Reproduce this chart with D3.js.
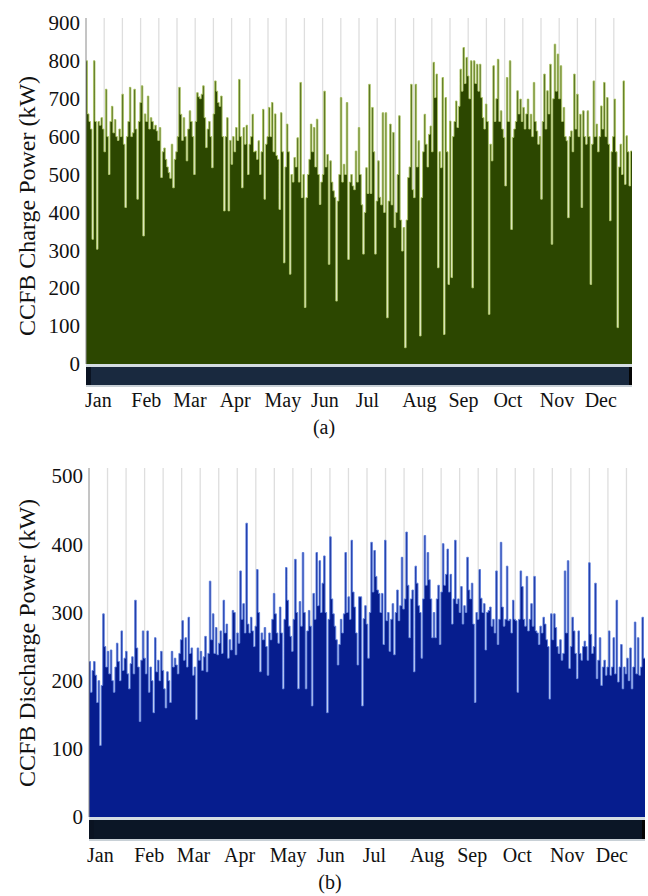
<!DOCTYPE html>
<html>
<head>
<meta charset="utf-8">
<script src="https://cdn.jsdelivr.net/npm/d3@7"></script>
<style>
  body { margin: 0; background: #fff; }
  svg text { font-family: "Liberation Serif", "Times New Roman", serif; fill: #111; }
</style>
</head>
<body>
<svg id="chart" width="648" height="896"></svg>
<script>
// DATA
const months = ["Jan", "Feb", "Mar", "Apr", "May", "Jun", "Jul", "Aug", "Sep", "Oct", "Nov", "Dec"];
const monthStartDay = [0, 31, 59, 90, 120, 151, 181, 212, 243, 273, 304, 334];

// daily CCFB charge power (kW)
const chargeKW = [
  800,660,640,620,329,800,640,303,640,630,
  650,620,560,725,600,500,640,680,610,645,
  600,590,620,600,712,580,413,600,640,730,
  600,610,725,620,435,640,690,734,338,660,
  640,707,620,650,640,620,630,615,590,624,
  492,560,570,540,520,505,490,580,465,540,
  560,600,730,659,590,650,600,536,620,668,
  640,600,500,640,716,705,700,712,734,650,
  571,620,640,600,518,660,747,720,690,680,
  707,600,404,600,650,404,590,527,600,560,
  624,590,751,600,465,624,580,630,500,580,
  600,659,560,562,540,589,500,560,672,435,
  580,600,677,600,690,560,660,550,540,408,
  663,560,267,520,633,560,237,500,480,545,
  520,597,480,743,439,500,149,439,500,540,
  633,560,624,520,646,500,421,480,500,720,
  520,553,263,536,480,457,440,166,430,500,
  703,480,527,500,690,276,480,500,470,460,
  562,480,624,500,420,290,400,518,450,738,
  450,677,560,290,430,536,440,420,663,400,
  663,122,430,633,420,611,360,400,500,655,
  380,298,360,43,380,492,520,738,460,439,
  738,520,589,74,439,560,659,580,520,606,
  628,560,796,703,765,254,560,518,756,78,
  703,560,210,641,228,600,640,694,624,680,
  778,720,835,740,809,760,700,800,201,800,
  740,791,720,791,703,650,620,686,640,131,
  580,536,787,640,700,804,640,668,620,598,
  470,756,640,800,355,598,620,640,721,660,
  699,640,677,620,660,699,620,659,600,743,
  640,615,580,600,435,640,765,620,721,660,
  791,316,700,844,720,818,700,787,640,677,
  600,589,386,600,615,560,765,620,712,600,
  659,413,668,600,580,668,600,210,580,747,
  600,633,560,600,681,620,743,600,703,580,
  378,560,600,699,560,96,520,580,500,747,
  474,602,560,470,562
];

// daily CCFB discharge power (kW)
const dischargeKW = [
  228,183,215,228,208,168,200,105,193,298,
  250,220,243,210,245,200,183,220,255,228,
  200,273,215,233,243,210,188,225,235,210,
  318,248,220,140,230,273,233,210,273,183,
  220,200,153,263,213,230,200,243,215,188,
  160,213,200,168,243,220,233,223,210,240,
  260,288,230,263,220,293,240,248,208,220,
  143,248,230,243,215,235,265,213,240,346,
  260,298,240,278,238,255,273,240,318,270,
  283,233,260,245,303,300,238,270,255,361,
  290,313,270,431,283,270,293,273,250,280,
  363,300,213,270,260,278,250,208,270,260,
  290,328,298,270,255,308,270,188,290,366,
  318,280,265,243,290,378,300,188,316,280,
  388,300,188,273,303,280,163,328,290,388,
  310,376,300,343,383,300,153,290,411,320,
  298,280,260,223,253,290,270,298,388,300,
  323,290,406,330,308,270,223,323,323,163,
  291,310,283,233,300,403,330,391,353,333,
  328,300,328,253,406,288,300,243,290,313,
  238,300,333,288,310,381,305,320,418,340,
  263,320,333,213,368,343,310,300,233,320,
  413,340,388,348,320,263,300,263,320,340,
  253,330,401,340,356,393,330,356,283,320,
  406,313,320,300,338,283,310,300,381,333,
  320,343,283,168,300,290,363,321,300,313,
  245,300,303,308,280,290,270,361,253,290,
  403,308,280,290,368,288,290,270,318,290,
  288,183,290,361,338,290,280,353,273,290,
  313,280,353,273,270,253,280,270,293,283,
  260,250,173,298,260,298,278,250,240,260,
  230,240,361,270,376,218,250,293,273,240,
  203,273,240,230,250,258,250,230,373,268,
  240,250,343,203,230,263,193,220,230,208,
  220,273,208,220,263,210,318,198,220,253,
  188,220,210,233,200,248,188,220,286,210,
  263,208,220,293,233
];

const chargeTicks = [0, 100, 200, 300, 400, 500, 600, 700, 800, 900];
const dischargeTicks = [0, 100, 200, 300, 400, 500];

const serif = "'Liberation Serif', 'Times New Roman', serif";
const svg = d3.select("#chart");
svg.append("rect").attr("width", 648).attr("height", 896).attr("fill", "#fff");

// DRAW ONE PANEL
function drawPanel(values, cfg) {
  const n = values.length;
  const g = svg.append("g").attr("font-family", serif);

  const x = d3.scaleLinear().domain([0, n]).range([cfg.left, cfg.right]);
  const y = d3.scaleLinear().domain([0, cfg.yMax]).range([cfg.bottom, cfg.top]);

  // vertical grid, 30 equal steps like the original
  const grid = d3.range(1, 30).map(k => k * n / 30);
  g.selectAll("line.grid")
    .data(grid)
    .join("line")
    .attr("class", "grid")
    .attr("x1", d => x(d)).attr("x2", d => x(d))
    .attr("y1", cfg.top).attr("y2", cfg.bottom)
    .attr("stroke", "#dedede")
    .attr("stroke-width", 1.3);

  const pts = values.map((v, i) => [i, v]).concat([[n, values[n - 1]]]);

  const area = d3.area()
    .x(d => x(d[0]))
    .y0(y(0))
    .y1(d => y(d[1]))
    .curve(d3.curveStepAfter);
  g.append("path").attr("d", area(pts)).attr("fill", cfg.fill);

  const line = d3.line()
    .x(d => x(d[0]))
    .y(d => y(d[1]))
    .curve(d3.curveStepAfter);
  g.append("path")
    .attr("d", line(pts))
    .attr("fill", "none")
    .attr("stroke", cfg.stroke)
    .attr("stroke-width", 0.9);

  // left axis line
  g.append("line")
    .attr("x1", cfg.left).attr("x2", cfg.left)
    .attr("y1", cfg.top).attr("y2", cfg.bottom)
    .attr("stroke", "#8a8a8a").attr("stroke-width", 1);

  // range selector strip under the plot
  g.append("rect")
    .attr("x", cfg.left).attr("y", cfg.bottom)
    .attr("width", cfg.right - cfg.left).attr("height", 3)
    .attr("fill", "#d4dce2");
  g.append("rect")
    .attr("x", cfg.left).attr("y", cfg.bottom + 3)
    .attr("width", cfg.right - cfg.left).attr("height", cfg.band)
    .attr("fill", cfg.bandFill);
  g.append("rect")
    .attr("x", cfg.left).attr("y", cfg.bottom + 3)
    .attr("width", 5).attr("height", cfg.band)
    .attr("fill", "#0a1322");
  g.append("rect")
    .attr("x", cfg.right - 3).attr("y", cfg.bottom + 3)
    .attr("width", 3).attr("height", cfg.band)
    .attr("fill", "#050505");
  g.append("rect")
    .attr("x", cfg.left).attr("y", cfg.bottom + 3 + cfg.band)
    .attr("width", cfg.right - cfg.left).attr("height", 2)
    .attr("fill", "#c8d0d6");

  // y axis labels
  const yAxis = d3.axisLeft(y).tickValues(cfg.ticks).tickSize(0).tickPadding(6);
  const ya = g.append("g")
    .attr("transform", "translate(" + cfg.left + ",0)")
    .call(yAxis);
  ya.select(".domain").remove();
  ya.attr("font-family", serif).attr("font-size", 21);
  ya.selectAll("text").attr("fill", "#111");

  // month labels
  g.selectAll("text.month")
    .data(months)
    .join("text")
    .attr("class", "month")
    .attr("x", (d, i) => x(monthStartDay[i]) + cfg.monthShift)
    .attr("y", cfg.monthY)
    .attr("font-size", 20)
    .text(d => d);

  // y title
  g.append("text")
    .attr("transform", "translate(" + cfg.titleX + "," + cfg.titleY + ") rotate(-90)")
    .attr("text-anchor", "middle")
    .attr("font-size", 24)
    .text(cfg.title);

  // caption
  g.append("text")
    .attr("x", cfg.captionX).attr("y", cfg.captionY)
    .attr("text-anchor", "middle")
    .attr("font-size", 20)
    .text(cfg.caption);
}

drawPanel(chargeKW, {
  left: 86, right: 632, top: 18, bottom: 364, yMax: 913,
  ticks: chargeTicks,
  fill: "#2c4700", stroke: "#abc462",
  band: 18, bandFill: "#19293f",
  monthY: 407, monthShift: -1,
  title: "CCFB Charge Power (kW)", titleX: 35, titleY: 206,
  caption: "(a)", captionX: 324, captionY: 434
});

drawPanel(dischargeKW, {
  left: 89, right: 645, top: 468, bottom: 817, yMax: 512,
  ticks: dischargeTicks,
  fill: "#061d8e", stroke: "#5d7fdc",
  band: 19, bandFill: "#0b1626",
  monthY: 862, monthShift: -2,
  title: "CCFB Discharge Power (kW)", titleX: 35, titleY: 643,
  caption: "(b)", captionX: 330, captionY: 889
});
</script>
</body>
</html>
